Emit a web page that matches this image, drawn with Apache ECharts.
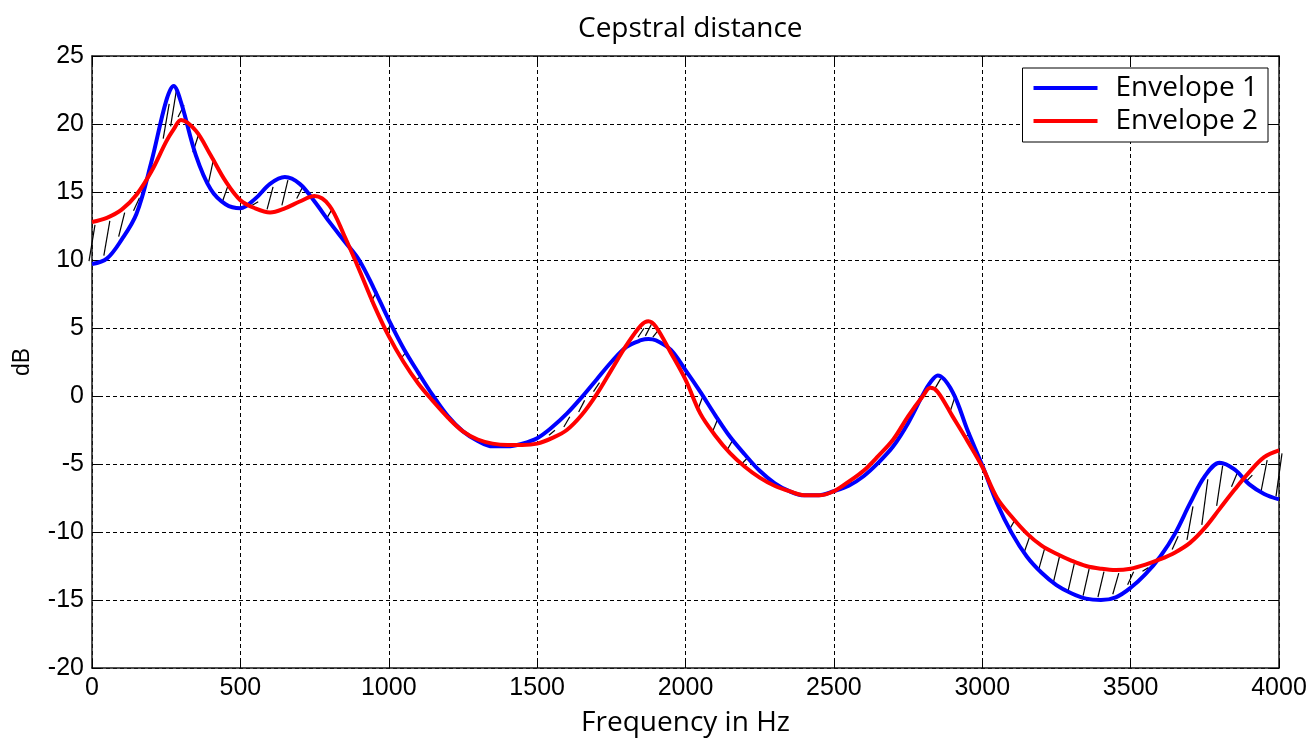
<!DOCTYPE html>
<html>
<head>
<meta charset="utf-8">
<script src="https://cdn.jsdelivr.net/npm/echarts@6/dist/echarts.min.js"></script>
<style>
html,body{margin:0;padding:0;background:#fff;}
#chart{width:1316px;height:743px;}
</style>
</head>
<body>
<div id="chart"></div>
<script>
// Frequency grid (Hz)
const freq = [0,50,100,150,200,250,275,300,350,400,450,500,550,600,650,700,750,800,850,900,950,
  1000,1050,1100,1150,1200,1250,1300,1350,1400,1450,1500,1550,1600,1650,1700,1750,1800,1850,1875,1900,1950,
  2000,2050,2100,2150,2200,2250,2300,2350,2400,2450,2500,2550,2600,2650,2700,2750,2800,2825,2850,2900,2950,
  3000,3050,3100,3150,3200,3250,3300,3350,3400,3450,3500,3550,3600,3650,3700,3750,3800,3850,3900,3950,4000];
// Envelope 1 (dB)
const envelope1 = [9.7,10.1,11.5,13.4,17.2,21.7,22.8,21.6,17.7,15.2,14.1,13.8,14.5,15.6,16.1,15.6,14.3,12.8,11.4,10.0,7.9,
  5.6,3.5,1.7,0.0,-1.5,-2.6,-3.3,-3.7,-3.7,-3.5,-3.1,-2.3,-1.3,-0.1,1.2,2.5,3.6,4.1,4.2,4.1,3.4,
  1.9,0.3,-1.4,-3.0,-4.3,-5.5,-6.4,-7.0,-7.3,-7.3,-7.0,-6.6,-5.9,-4.9,-3.7,-2.0,0.1,1.0,1.5,0.3,-2.5,
  -5.1,-7.9,-10.1,-11.8,-13.0,-13.9,-14.5,-14.9,-15.0,-14.8,-14.1,-13.1,-11.8,-10.1,-7.9,-5.9,-4.9,-5.4,-6.5,-7.2,-7.6];
// Envelope 2 (dB)
const envelope2 = [12.8,13.1,13.7,14.8,16.5,18.7,19.6,20.3,19.5,17.7,15.8,14.4,13.8,13.5,13.8,14.3,14.7,14.0,11.8,9.3,6.7,
  4.4,2.5,0.9,-0.4,-1.6,-2.6,-3.2,-3.5,-3.6,-3.6,-3.5,-3.1,-2.5,-1.4,0.1,1.9,3.7,5.2,5.5,5.1,3.2,
  1.2,-1.3,-2.9,-4.2,-5.2,-6.0,-6.6,-7.0,-7.3,-7.3,-7.0,-6.3,-5.5,-4.4,-3.2,-1.5,0.0,0.6,0.3,-1.5,-3.3,
  -5.2,-7.5,-8.9,-10.1,-11.0,-11.6,-12.1,-12.5,-12.7,-12.8,-12.7,-12.4,-12.0,-11.5,-10.8,-9.7,-8.3,-6.9,-5.6,-4.5,-4.0];
const xTicks = {min:0, max:4000, interval:500};
const yTicks = {min:-20, max:25, interval:5};
const seriesNames = ['Envelope 1','Envelope 2'];

const chart = echarts.init(document.getElementById('chart'), null, {renderer:'canvas'});
const sansLabel = 'Liberation Sans, Arial, sans-serif';
const sansText = 'Open Sans, sans-serif';
const gridDash = {color:'#000', width:1, type:[4,3]};
const frame = {show:true, onZero:false, lineStyle:{color:'#1a1a1a', width:1.5}};
const tick = {show:true, inside:true, length:9, lineStyle:{color:'#000', width:1}};
const plain = v => String(v);

const option = {
  backgroundColor:'#fff',
  animation:false,
  title:{text:'Cepstral distance', left:573, top:10,
    textStyle:{fontFamily:sansText, fontSize:28, fontWeight:'normal', color:'#000'}},
  legend:{
    data:seriesNames, orient:'vertical', right:48, top:68,
    icon:'rect', itemWidth:64, itemHeight:4, itemGap:5,
    padding:[6,10,7,11], borderColor:'#000', borderWidth:1, backgroundColor:'#fff',
    textStyle:{fontFamily:sansText, fontSize:28, color:'#000', padding:[0,0,0,13], lineHeight:28}
  },
  grid:{left:92, right:37, top:56, bottom:75, containLabel:false},
  xAxis:[{
    type:'value', min:xTicks.min, max:xTicks.max, interval:xTicks.interval,
    name:'Frequency in Hz', nameLocation:'middle', nameGap:41,
    nameTextStyle:{fontFamily:sansText, fontSize:28, color:'#000'},
    axisLine:frame, axisTick:tick,
    axisLabel:{fontFamily:sansLabel, fontSize:25, color:'#000', margin:8, formatter:plain},
    splitLine:{show:true, lineStyle:gridDash}
  },{
    type:'value', position:'top', min:xTicks.min, max:xTicks.max, interval:xTicks.interval,
    axisLine:frame, axisTick:tick,
    axisLabel:{show:false}, splitLine:{show:false}
  }],
  yAxis:[{
    type:'value', min:yTicks.min, max:yTicks.max, interval:yTicks.interval,
    name:'dB', nameLocation:'middle', nameGap:58,
    nameTextStyle:{fontFamily:sansLabel, fontSize:23, color:'#000'},
    axisLine:frame, axisTick:tick,
    axisLabel:{fontFamily:sansLabel, fontSize:25, color:'#000', margin:8, formatter:plain},
    splitLine:{show:true, lineStyle:gridDash}
  },{
    type:'value', position:'right', min:yTicks.min, max:yTicks.max, interval:yTicks.interval,
    axisLine:frame, axisTick:tick,
    axisLabel:{show:false}, splitLine:{show:false}
  }],
  series:[
    {
      type:'custom', name:'hatch', silent:true, z:1,
      xAxisIndex:0, yAxisIndex:0,
      data: freq.map((f,i)=>[f, envelope1[i], envelope2[i]]),
      encode:{x:0, y:[1,2]},
      renderItem:function(params, api){
        const f = api.value(0), a = api.value(1), b = api.value(2);
        const lo = api.coord([f, Math.min(a,b)]);
        const hi = api.coord([f, Math.max(a,b)]);
        const gap = lo[1]-hi[1];
        if (gap < 9) return null;
        return {type:'line', shape:{x1:lo[0]-3, y1:lo[1]-3, x2:lo[0]+3, y2:hi[1]+3},
          style:{stroke:'#000', lineWidth:1.2}};
      }
    },
    {
      name:seriesNames[0], type:'line', smooth:0.35, symbol:'none', z:3,
      data: freq.map((f,i)=>[f, envelope1[i]]),
      lineStyle:{color:'#0000ff', width:4}, itemStyle:{color:'#0000ff'}
    },
    {
      name:seriesNames[1], type:'line', smooth:0.35, symbol:'none', z:4,
      data: freq.map((f,i)=>[f, envelope2[i]]),
      lineStyle:{color:'#ff0000', width:4}, itemStyle:{color:'#ff0000'}
    }
  ]
};
chart.setOption(option);
</script>
</body>
</html>
